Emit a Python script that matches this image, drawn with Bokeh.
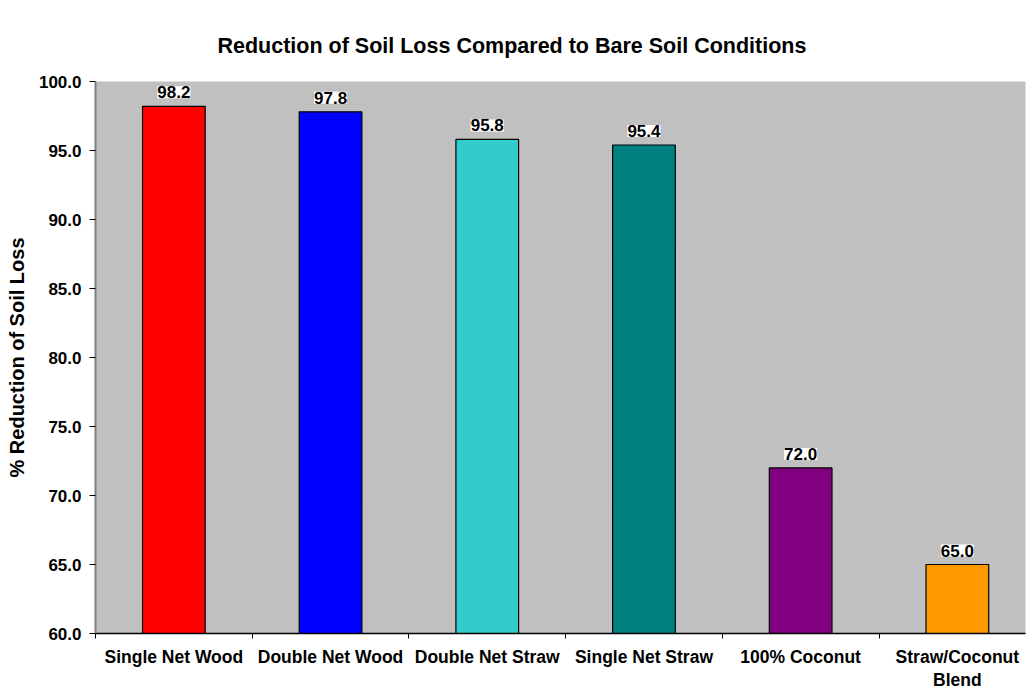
from bokeh.plotting import figure
from bokeh.models import ColumnDataSource, FixedTicker, LabelSet, Range1d, Title, NumeralTickFormatter
from bokeh.core.properties import value
from bokeh.embed import file_html
from bokeh.resources import INLINE

categories = ["Single Net Wood", "Double Net Wood", "Double Net Straw", "Single Net Straw", "100% Coconut", "Straw/Coconut\nBlend"]
values = [98.2, 97.8, 95.8, 95.4, 72.0, 65.0]
colors = ["#FF0000", "#0000FF", "#33CCCC", "#008080", "#800080", "#FF9900"]
y_ticks = [60, 65, 70, 75, 80, 85, 90, 95, 100]
title_text = "Reduction of Soil Loss Compared to Bare Soil Conditions"
y_label = "% Reduction of Soil Loss"

FONT = "Liberation Sans"
xs = list(range(1, len(categories) + 1))
src = ColumnDataSource(dict(x=xs, top=values, color=colors,
                            label=["%.1f" % v for v in values]))

p = figure(width=1026, height=692, output_backend="svg", toolbar_location=None,
           x_range=Range1d(0.5, 0.5 + 930 / 156.7), y_range=Range1d(60, 100),
           min_border_left=95, min_border_right=1, min_border_top=81, min_border_bottom=58)
p.background_fill_color = "#C0C0C0"
p.border_fill_color = "white"
p.outline_line_color = None
p.xgrid.grid_line_color = None
p.ygrid.grid_line_color = None

p.vbar(x="x", top="top", bottom=60, width=0.4, fill_color="color", line_color="black",
       line_width=1.2, source=src)

labels = LabelSet(x="x", y="top", text="label", source=src, text_align="center",
                  text_baseline="bottom", y_offset=8, text_font=value(FONT),
                  text_font_style="bold", text_font_size=value("17px"),
                  text_color="black",
                  background_fill_color="white", background_fill_alpha=1.0)
p.add_layout(labels)

p.title = Title(text=title_text, align="left", offset=122, text_font=FONT,
                text_font_style="bold", text_font_size="21.5px", standoff=48,
                text_color="black")

# x axis
p.xaxis.ticker = FixedTicker(ticks=xs, minor_ticks=[x - 0.5 for x in xs] + [xs[-1] + 0.5])
p.xaxis.major_label_overrides = {x: c for x, c in zip(xs, categories)}
p.xaxis.major_tick_out = 0
p.xaxis.major_tick_in = 0
p.xaxis.minor_tick_out = 5
p.xaxis.minor_tick_in = 0
p.xaxis.minor_tick_line_color = "black"
p.xaxis.axis_line_color = "black"
p.xaxis.axis_line_width = 1.5
p.xaxis.major_label_standoff = 8
p.xaxis.major_label_text_font = FONT
p.xaxis.major_label_text_font_style = "bold"
p.xaxis.major_label_text_font_size = "17.5px"
p.xaxis.major_label_text_line_height = 1.15
p.xaxis.major_label_text_color = "black"

# y axis
p.yaxis.ticker = FixedTicker(ticks=y_ticks)
p.yaxis.formatter = NumeralTickFormatter(format="0.0")
p.yaxis.major_tick_out = 6
p.yaxis.major_tick_in = 0
p.yaxis.minor_tick_line_color = None
p.yaxis.axis_line_color = "#808080"
p.yaxis.axis_line_width = 2
p.yaxis.major_tick_line_color = "black"
p.yaxis.major_label_standoff = 8
p.yaxis.major_label_text_font = FONT
p.yaxis.major_label_text_font_style = "bold"
p.yaxis.major_label_text_font_size = "17px"
p.yaxis.major_label_text_color = "black"
p.yaxis.axis_label = y_label
p.yaxis.axis_label_text_font = FONT
p.yaxis.axis_label_text_font_style = "bold"
p.yaxis.axis_label_text_font_size = "20px"
p.yaxis.axis_label_text_color = "black"
p.yaxis.axis_label_standoff = 8

open("out.html", "w").write(file_html(p, INLINE))
